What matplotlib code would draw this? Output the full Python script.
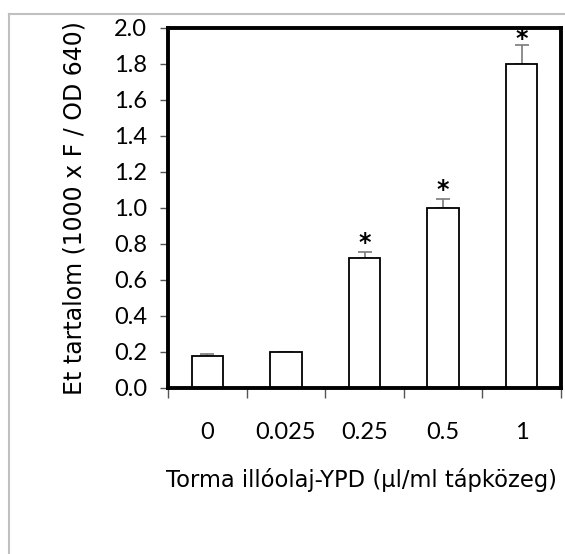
import numpy as np
import matplotlib
matplotlib.use("Agg")
import matplotlib.pyplot as plt
from matplotlib.lines import Line2D

# adatok
categories = ["0", "0.025", "0.25", "0.5", "1"]
values = [0.178, 0.20, 0.72, 1.00, 1.80]
errors = [0.01, 0.0, 0.037, 0.048, 0.105]
signif = [False, False, True, True, True]

fig = plt.figure(figsize=(5.65, 5.54), dpi=100)
ax = fig.add_axes([168/565, 1-388/554, (561-168)/565, (388-28)/554])

x = np.arange(len(categories))
ax.bar(x, values, width=0.4, color="white", edgecolor="black", linewidth=1.3, zorder=2)
ax.errorbar(x, values, yerr=[np.zeros(len(errors)), errors], fmt="none",
            ecolor="#7a7a7a", elinewidth=1.2, capsize=4.8, capthick=1.2, zorder=1)

# csillagok
for i in range(len(x)):
    if signif[i]:
        top = min(values[i] + errors[i], 1.89)
        ax.annotate("*", (x[i], top), xytext=(0, 1.5), textcoords="offset points",
                    ha="center", va="baseline", fontsize=17, fontweight="bold",
                    family="DejaVu Sans", annotation_clip=False)

ax.set_xlim(-0.5, len(categories) - 0.5)
ax.set_ylim(0, 2.0)
ax.set_yticks(np.arange(0, 2.01, 0.2))
ax.set_yticklabels(["%.1f" % v for v in np.arange(0, 2.01, 0.2)])

# kategoriahatarokon levo tickek
ax.set_xticks(np.arange(-0.5, len(categories), 1.0))
ax.set_xticklabels([])
ax.tick_params(axis="x", direction="out", length=7, width=1.0, color="#555555")
ax.tick_params(axis="y", direction="out", length=6, width=1.0, color="#555555",
               labelsize=17, pad=9)
for lab in ax.get_yticklabels():
    lab.set_family("Lato")

for i, c in enumerate(categories):
    ax.text(x[i], -0.245, c, ha="center", va="center", fontsize=17, family="Lato")

for s in ax.spines.values():
    s.set_linewidth(2.8)

ax.set_ylabel("Et tartalom (1000 x F / OD 640)", fontsize=17, labelpad=20)
fig.text(362/565, 1-480/554, "Torma illóolaj-YPD (µl/ml tápközeg)", ha="center",
         va="center", fontsize=16.3)

# szurke keret
fig.add_artist(Line2D([9/565, 1], [1-14/554, 1-14/554], color="#c0c0c0", lw=1.5))
fig.add_artist(Line2D([9/565, 9/565], [0, 1-14/554], color="#c0c0c0", lw=1.5))

fig.savefig("out.png", dpi=100)
